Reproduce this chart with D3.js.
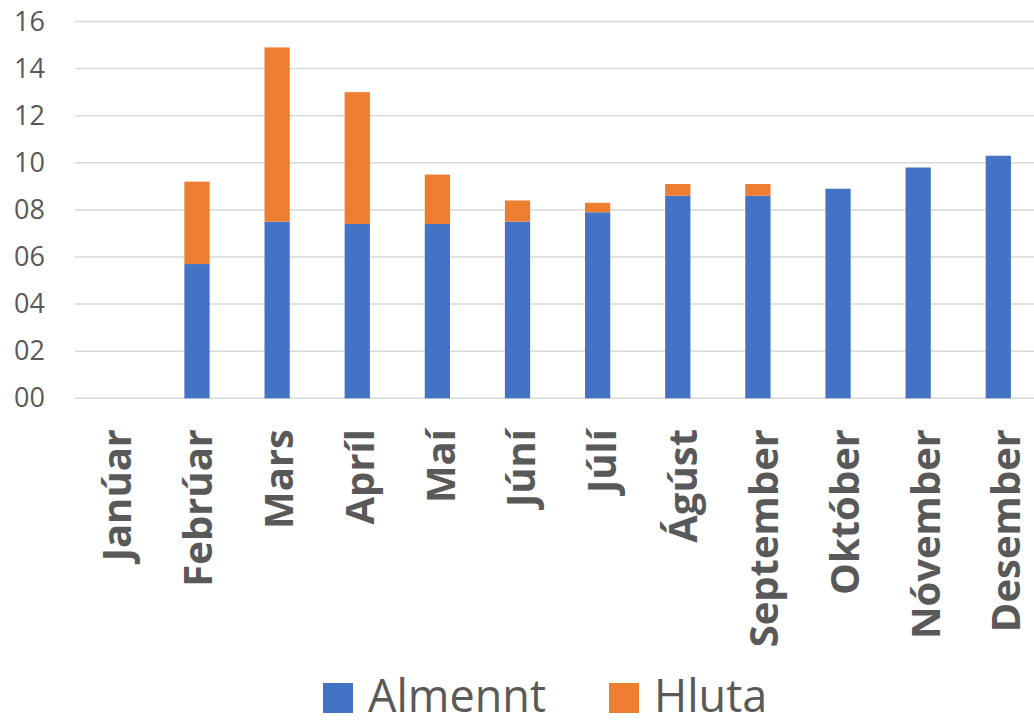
<!DOCTYPE html>
<html><head><meta charset="utf-8">
<script src="https://cdn.jsdelivr.net/npm/d3@7"></script>
<style>body{margin:0;background:#fff}</style>
</head><body>
<script>
const categories = ["Janúar","Febrúar","Mars","Apríl","Maí","Júní","Júlí","Ágúst","September","Október","Nóvember","Desember"];
const almennt = [0, 5.7, 7.5, 7.4, 7.4, 7.5, 7.9, 8.6, 8.6, 8.9, 9.8, 10.3];
const hluta   = [0, 3.5, 7.4, 5.6, 2.1, 0.9, 0.4, 0.5, 0.5, 0, 0, 0];
const yTicks = [0, 2, 4, 6, 8, 10, 12, 14, 16];
const seriesNames = ["Almennt", "Hluta"];
const colors = ["#4472C4", "#ED7D31"];

const W = 1034, H = 725;
const svg = d3.select("body").append("svg").attr("width", W).attr("height", H);
const x0 = 76.8, x1 = 76.8 + 12 * 80.13;
const x = d3.scaleBand().domain(categories).range([x0, x1]).paddingInner(0.685).paddingOuter(0.3425);
const xLab = d3.scaleBand().domain(categories).range([76.3, 76.3 + 12 * 80.85]);
const y = d3.scaleLinear().domain([0, 16]).range([398.3, 21.5]);

// gridlines
svg.append("g").selectAll("line").data(yTicks).join("line")
  .attr("x1", 75).attr("x2", W).attr("y1", d => y(d)).attr("y2", d => y(d))
  .attr("stroke", "#D9D9D9").attr("stroke-width", 1.5);

// y axis labels
const yAxis = d3.axisLeft(y).tickValues(yTicks).tickSize(0).tickPadding(0)
  .tickFormat(d => String(d).padStart(2, "0"));
const yg = svg.append("g").attr("transform", "translate(45,0)").call(yAxis);
yg.select(".domain").remove();
yg.selectAll("text").attr("font-family", "Open Sans, sans-serif").attr("font-size", 27).attr("fill", "#595959");

// stacked data
const rows = categories.map((c, i) => ({cat: c, Almennt: almennt[i], Hluta: hluta[i]}));
const stack = d3.stack().keys(seriesNames)(rows);
svg.append("g").selectAll("g").data(stack).join("g")
  .attr("fill", (d, i) => colors[i])
  .selectAll("rect").data(d => d).join("rect")
  .attr("x", d => x(d.data.cat))
  .attr("width", x.bandwidth())
  .attr("y", d => y(d[1]))
  .attr("height", d => Math.max(0, y(d[0]) - y(d[1])));

// x axis labels
const xAxis = d3.axisBottom(xLab).tickSize(0).tickPadding(0);
const xg = svg.append("g").attr("transform", "translate(0,429)").call(xAxis);
xg.select(".domain").remove();
xg.selectAll("text")
  .attr("font-family", "Open Sans, sans-serif").attr("font-weight", "bold").attr("font-size", 40)
  .attr("fill", "#595959")
  .attr("transform", "rotate(-90)")
  .attr("text-anchor", "end")
  .attr("x", 0).attr("y", 0).attr("dy", "0.36em");

// legend
const leg = svg.append("g");
const legX = [323, 609];
seriesNames.forEach((n, i) => {
  leg.append("rect").attr("x", legX[i]).attr("y", 683).attr("width", 30).attr("height", 30).attr("fill", colors[i]);
  leg.append("text").attr("x", legX[i] + 45).attr("y", 712).text(n)
    .attr("font-family", "Open Sans, sans-serif").attr("font-size", 45).attr("fill", "#595959");
});
</script>
</body></html>
